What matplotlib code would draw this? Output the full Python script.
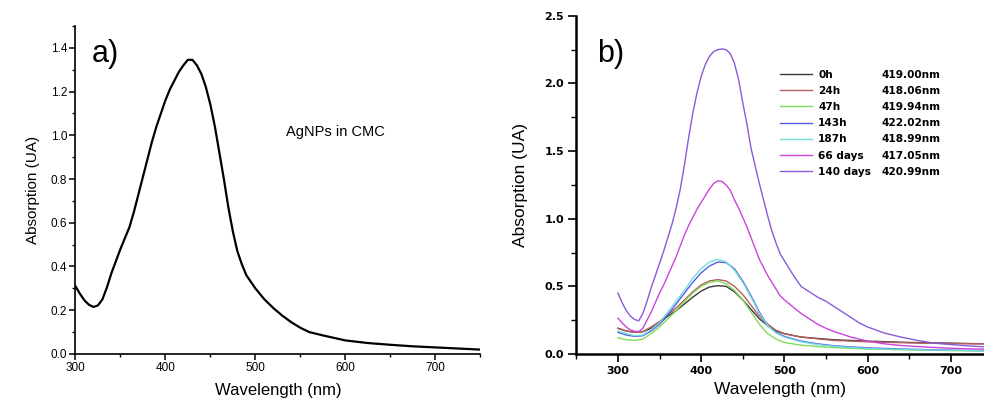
import matplotlib
matplotlib.use("Agg")
import matplotlib.pyplot as plt
from matplotlib.ticker import MultipleLocator, FormatStrFormatter

# ---------------- Panel a data ----------------
wl_a = [300, 305, 310, 315, 320, 325, 330, 335, 340, 345, 350, 355, 360, 365, 370,
        375, 380, 385, 390, 395, 400, 405, 410, 415, 420, 425, 430, 435, 440, 445,
        450, 455, 460, 465, 470, 475, 480, 485, 490, 495, 500, 510, 520, 530, 540,
        550, 560, 575, 600, 625, 650, 675, 700, 725, 750]
abs_a = [0.31, 0.275, 0.245, 0.225, 0.215, 0.222, 0.25, 0.305, 0.37, 0.425, 0.48,
         0.53, 0.58, 0.65, 0.73, 0.81, 0.89, 0.97, 1.04, 1.10, 1.16, 1.21, 1.25,
         1.29, 1.32, 1.345, 1.345, 1.32, 1.28, 1.22, 1.14, 1.04, 0.92, 0.80, 0.67,
         0.56, 0.47, 0.41, 0.36, 0.33, 0.30, 0.25, 0.21, 0.175, 0.145, 0.12, 0.10,
         0.085, 0.062, 0.05, 0.042, 0.035, 0.03, 0.025, 0.02]

# ---------------- Panel b data ----------------
wl_b = [300, 310, 320, 330, 340, 350, 360, 370, 380, 390, 400, 410, 420, 430, 440,
        450, 460, 470, 480, 490, 500, 520, 540, 560, 600, 650, 700, 740]
abs_0h = [0.19, 0.17, 0.16, 0.165, 0.19, 0.23, 0.28, 0.32, 0.37, 0.42, 0.465, 0.495,
          0.505, 0.50, 0.46, 0.40, 0.33, 0.26, 0.21, 0.17, 0.15, 0.125, 0.115, 0.105,
          0.095, 0.085, 0.08, 0.075]
abs_24h = [0.19, 0.17, 0.16, 0.165, 0.20, 0.24, 0.29, 0.34, 0.40, 0.46, 0.51, 0.54,
           0.55, 0.54, 0.50, 0.44, 0.36, 0.28, 0.22, 0.175, 0.15, 0.125, 0.112, 0.10,
           0.09, 0.082, 0.077, 0.075]
abs_47h = [0.12, 0.105, 0.10, 0.11, 0.15, 0.20, 0.26, 0.32, 0.39, 0.45, 0.50, 0.53,
           0.54, 0.52, 0.47, 0.40, 0.31, 0.22, 0.15, 0.11, 0.085, 0.065, 0.055, 0.047,
           0.037, 0.03, 0.025, 0.022]
abs_143h = [0.16, 0.14, 0.13, 0.135, 0.17, 0.22, 0.29, 0.37, 0.45, 0.53, 0.60, 0.65,
            0.68, 0.675, 0.63, 0.54, 0.43, 0.31, 0.21, 0.16, 0.13, 0.095, 0.075, 0.06,
            0.045, 0.035, 0.028, 0.025]
abs_187h = [0.17, 0.15, 0.135, 0.14, 0.18, 0.23, 0.31, 0.39, 0.47, 0.56, 0.63, 0.68,
            0.70, 0.68, 0.62, 0.53, 0.42, 0.30, 0.21, 0.155, 0.125, 0.09, 0.07, 0.056,
            0.04, 0.032, 0.027, 0.024]

wl_66d = [300, 305, 310, 315, 320, 325, 330, 335, 340, 345, 350, 355, 360, 365, 370,
          375, 380, 385, 390, 395, 400, 405, 410, 415, 420, 425, 430, 435, 440, 445,
          450, 455, 460, 465, 470, 475, 480, 485, 490, 495, 500, 510, 520, 530, 540,
          550, 560, 570, 580, 600, 620, 640, 660, 680, 700, 740]
abs_66d = [0.265, 0.23, 0.20, 0.177, 0.168, 0.165, 0.19, 0.25, 0.31, 0.38, 0.45, 0.51,
           0.58, 0.65, 0.72, 0.80, 0.88, 0.95, 1.01, 1.07, 1.12, 1.17, 1.22, 1.26, 1.28,
           1.275, 1.25, 1.21, 1.14, 1.08, 1.01, 0.94, 0.86, 0.78, 0.70, 0.64, 0.58,
           0.53, 0.48, 0.43, 0.40, 0.35, 0.30, 0.26, 0.22, 0.19, 0.165, 0.145, 0.125,
           0.095, 0.075, 0.063, 0.055, 0.048, 0.042, 0.035]

wl_140d = [300, 305, 310, 315, 320, 325, 330, 335, 340, 345, 350, 355, 360, 365, 370,
           375, 380, 385, 390, 395, 400, 405, 410, 415, 420, 425, 430, 435, 440, 445,
           450, 455, 460, 465, 470, 475, 480, 485, 490, 495, 500, 510, 520, 530, 540,
           550, 560, 570, 580, 590, 600, 620, 640, 660, 680, 700, 720, 740]
abs_140d = [0.45, 0.38, 0.32, 0.28, 0.255, 0.245, 0.30, 0.39, 0.49, 0.58, 0.67, 0.76,
            0.86, 0.96, 1.08, 1.22, 1.40, 1.60, 1.78, 1.93, 2.05, 2.14, 2.20, 2.235,
            2.25, 2.255, 2.25, 2.22, 2.15, 2.03, 1.86, 1.70, 1.52, 1.39, 1.26, 1.14,
            1.02, 0.91, 0.82, 0.74, 0.69, 0.59, 0.50, 0.46, 0.42, 0.39, 0.35, 0.31,
            0.27, 0.23, 0.20, 0.155, 0.125, 0.10, 0.08, 0.07, 0.06, 0.053]

series_labels = ["0h", "24h", "47h", "143h", "187h", "66 days", "140 days"]
peak_labels = ["419.00nm", "418.06nm", "419.94nm", "422.02nm", "418.99nm",
               "417.05nm", "420.99nm"]
series_colors = ["#3a3a3a", "#b85c5c", "#7fdc5a", "#5a5ae6", "#72dcdc", "#cc44dd",
                 "#8a5ad8"]
series_x = [wl_b, wl_b, wl_b, wl_b, wl_b, wl_66d, wl_140d]
series_y = [abs_0h, abs_24h, abs_47h, abs_143h, abs_187h, abs_66d, abs_140d]

# ---------------- Figure ----------------
fig = plt.figure(figsize=(9.84, 4.05), dpi=100)
sans = ["Liberation Sans", "DejaVu Sans"]

# Panel a
axa = fig.add_axes([0.0767, 0.126, 0.4113, 0.810])
axa.plot(wl_a, abs_a, color="black", lw=1.6)
axa.set_xlim(300, 750)
axa.set_ylim(0, 1.5)
axa.xaxis.set_major_locator(MultipleLocator(100))
axa.xaxis.set_minor_locator(MultipleLocator(50))
axa.yaxis.set_major_locator(MultipleLocator(0.2))
axa.yaxis.set_minor_locator(MultipleLocator(0.1))
axa.yaxis.set_major_formatter(FormatStrFormatter("%.1f"))
axa.set_yticks([0.0, 0.2, 0.4, 0.6, 0.8, 1.0, 1.2, 1.4])
for s in ["top", "right"]:
    axa.spines[s].set_visible(False)
for s in ["left", "bottom"]:
    axa.spines[s].set_linewidth(1.2)
axa.tick_params(which="major", direction="out", length=4, width=1.1,
                labelsize=8.5, pad=2)
axa.tick_params(which="minor", direction="out", length=2.5, width=1.0)
for lab in axa.get_xticklabels() + axa.get_yticklabels():
    lab.set_family(sans)
axa.set_xlabel("Wavelength (nm)", fontsize=12, family=sans, labelpad=6)
axa.set_ylabel("Absorption (UA)", fontsize=11, family=sans, labelpad=8)
axa.text(0.04, 0.96, "a)", transform=axa.transAxes, fontsize=22, family=sans,
         va="top", ha="left")
axa.text(534, 1.015, "AgNPs in CMC", fontsize=10.5, family=sans, va="center",
         ha="left")

# Panel b
axb = fig.add_axes([0.5857, 0.126, 0.4143, 0.835])
lines = []
for xs, ys, c, lab in zip(series_x, series_y, series_colors, series_labels):
    ln, = axb.plot(xs, ys, color=c, lw=1.0, label=lab)
    lines.append(ln)
axb.set_xlim(250, 740)
axb.set_ylim(0, 2.5)
axb.set_xticks([300, 400, 500, 600, 700])
axb.xaxis.set_minor_locator(MultipleLocator(50))
axb.yaxis.set_major_locator(MultipleLocator(0.5))
axb.yaxis.set_minor_locator(MultipleLocator(0.25))
axb.yaxis.set_major_formatter(FormatStrFormatter("%.1f"))
for s in ["top", "right"]:
    axb.spines[s].set_visible(False)
for s in ["left", "bottom"]:
    axb.spines[s].set_linewidth(1.8)
axb.tick_params(which="major", direction="out", length=6, width=1.2,
                labelsize=8, pad=3)
axb.tick_params(which="minor", direction="out", length=3.5, width=1.0)
for lab in axb.get_xticklabels() + axb.get_yticklabels():
    lab.set_fontweight("bold")
    lab.set_family("DejaVu Sans")
axb.set_xlabel("Wavelength (nm)", fontsize=12.5, family=sans, labelpad=4)
axb.set_ylabel("Absorption (UA)", fontsize=12.5, family=sans, labelpad=12)
axb.text(0.05, 0.93, "b)", transform=axb.transAxes, fontsize=22, family=sans,
         va="top", ha="left")

leg = axb.legend(handles=lines, loc="upper left",
                 bbox_to_anchor=(0.50, 0.84), frameon=False,
                 prop={"family": "DejaVu Sans", "weight": "bold", "size": 7.6},
                 handlelength=3.0, handletextpad=0.6, labelspacing=0.58,
                 borderaxespad=0.0, borderpad=0.0)

fig.canvas.draw()
inv = fig.transFigure.inverted()
for t, pl in zip(leg.get_texts(), peak_labels):
    bb = t.get_window_extent()
    yc = (bb.y0 + bb.y1) / 2.0
    fx, fy = inv.transform((881.0, yc))
    fig.text(fx, fy, pl, fontsize=7.6, family="DejaVu Sans", fontweight="bold",
             va="center", ha="left")

fig.savefig("out.png", dpi=100)
